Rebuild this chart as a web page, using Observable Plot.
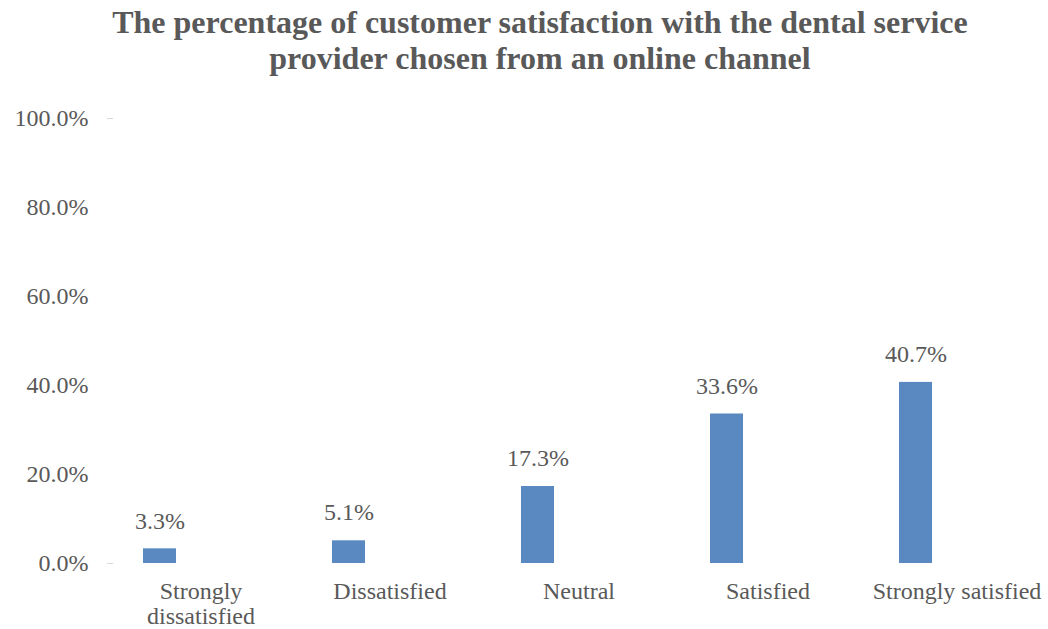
<!DOCTYPE html>
<html>
<head>
<meta charset="utf-8">
<script src="https://cdn.jsdelivr.net/npm/d3@7"></script>
<script src="https://cdn.jsdelivr.net/npm/@observablehq/plot@0.6"></script>
<style>
  html, body { margin: 0; padding: 0; background: #ffffff; }
  #title {
    box-sizing: border-box; height: 90px; padding-top: 4px; padding-left: 32px;
    font-family: "Liberation Serif", "Times New Roman", serif; font-weight: bold;
    font-size: 32px; line-height: 36px; text-align: center; color: #595959;
  }
  #chart svg { display: block; }
  #chart svg text { font-family: "Liberation Serif", "Times New Roman", serif; }
</style>
</head>
<body>
<div id="title">The percentage of customer satisfaction with the dental service<br>provider chosen from an online channel</div>
<div id="chart"></div>
<script>
const categories = ["Strongly\ndissatisfied", "Dissatisfied", "Neutral", "Satisfied", "Strongly satisfied"];
const values = [3.3, 5.1, 17.3, 33.6, 40.7];
const yTicks = [0, 20, 40, 60, 80, 100];

const data = categories.map((c, i) => ({cat: c, value: values[i]}));

const chart = Plot.plot({
  width: 1048,
  height: 539,
  marginTop: 28,
  marginBottom: 66,
  marginLeft: 65.5,
  marginRight: 37.5,
  style: {fontFamily: "'Liberation Serif', 'Times New Roman', serif", fontSize: "24px", color: "#595959", background: "transparent"},
  x: {domain: categories, paddingInner: 0.825, paddingOuter: 0.4125, label: null},
  y: {domain: [0, 100], label: null},
  marks: [
    Plot.axisY(yTicks, {tickSize: 0, tickPadding: 0, dx: 22.5, tickFormat: d => d.toFixed(1) + "%", fontSize: 24, label: null}),
    Plot.axisY([0, 100], {tickSize: 6, tickPadding: 0, dx: 47.5, tickFormat: () => "", stroke: "#d9d9d9", label: null}),
    Plot.axisX({tickSize: 0, tickPadding: 18, dx: 41, lineHeight: 1.04, fontSize: 24, label: null}),
    Plot.barY(data, {x: "cat", y: "value", fill: "#5a89c2"}),
    Plot.text(data, {x: "cat", y: "value", text: d => d.value.toFixed(1) + "%", dy: -28, fontSize: 24, fill: "#595959"})
  ]
});
document.getElementById("chart").appendChild(chart);
</script>
</body>
</html>
